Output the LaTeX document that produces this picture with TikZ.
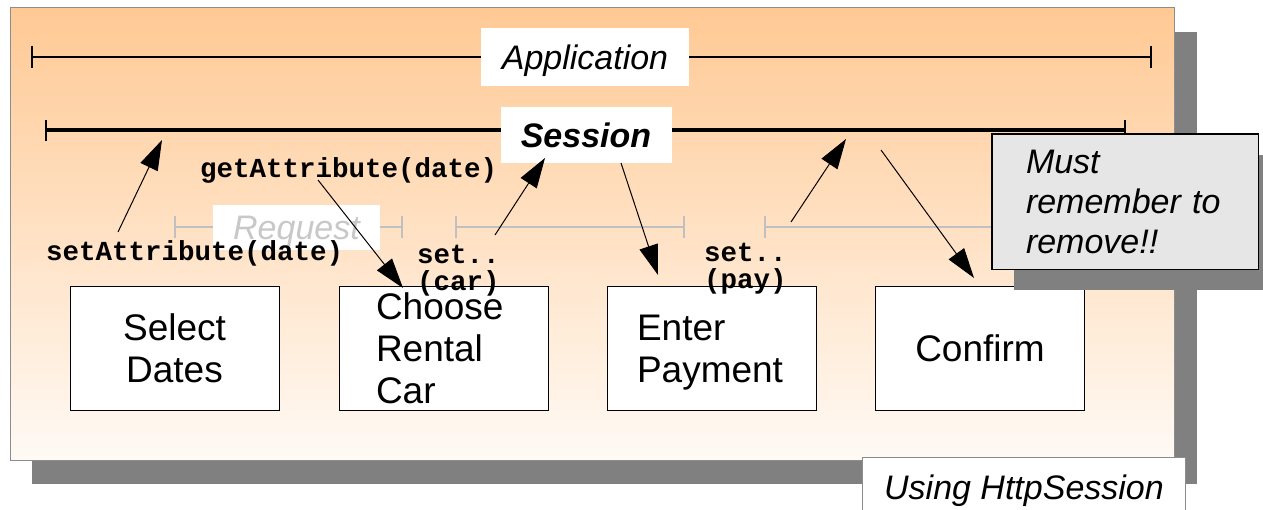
\documentclass[tikz,border=0pt]{standalone}
\usepackage{fontspec}
\setmainfont{Liberation Sans}
\newfontfamily\codefont{Liberation Mono}
\usetikzlibrary{arrows.meta}
\definecolor{orangetop}{HTML}{FFC994}
\definecolor{orangebot}{HTML}{FFFAF5}
\definecolor{shadowgray}{HTML}{808080}
\definecolor{reqline}{HTML}{C0C0C0}
\definecolor{reqtext}{HTML}{C8C8C8}
\definecolor{notegray}{HTML}{E6E6E6}
\definecolor{edgegray}{HTML}{8C8C8C}
\begin{document}
\begin{tikzpicture}[x=1pt,y=-1pt,
  labelbox/.style={fill=white, inner sep=0pt, font=\fontsize{34}{40}\selectfont\itshape},
  stepbox/.style={draw=black, line width=1pt, fill=white, minimum width=209pt, minimum height=123pt, inner ysep=0pt, font=\fontsize{37}{42}\selectfont},
  codelabel/.style={inner sep=0pt, font=\fontsize{27.5}{27}\selectfont\codefont\bfseries},
  arr/.style={-{Triangle[length=30pt,width=19pt]}, line width=1pt},
  reqseg/.style={draw=reqline, line width=2pt},
  tick/.style={line width=2pt}
]
\useasboundingbox (0,0) rectangle (1263,510);
% main panel with shadow
\fill[shadowgray] (32,32) rectangle (1197,484);
\path[draw=edgegray, line width=1pt, top color=orangetop, bottom color=orangebot] (10,8) rectangle (1174,460);
% application scope
\draw[line width=1.3pt] (32,57) -- (1151,57);
\draw[tick] (32,46) -- (32,68);
\draw[tick] (1151,46) -- (1151,68);
\node[labelbox, minimum width=208pt, minimum height=58pt, text depth=0pt] (app) at (585,57) {Application};
% session scope
\draw[line width=4pt] (46,130) -- (1125,130);
\draw[tick] (46,120) -- (46,141);
\draw[tick] (1125,120) -- (1125,141);
\node[labelbox, minimum width=171pt, minimum height=56pt, font=\fontsize{34}{40}\selectfont\bfseries\itshape] (sess) at (586,135) {Session};
% request scopes
\draw[reqseg] (175,227) -- (402,227);
\draw[reqseg] (175,216) -- (175,238);
\draw[reqseg] (402,216) -- (402,238);
\draw[reqseg] (456,227) -- (684,227);
\draw[reqseg] (456,216) -- (456,238);
\draw[reqseg] (684,216) -- (684,238);
\draw[reqseg] (765,227) -- (993,227);
\draw[reqseg] (765,216) -- (765,238);
\draw[reqseg] (993,216) -- (993,238);
\node[labelbox, minimum width=167pt, minimum height=45pt, text=reqtext, text depth=0pt] (req) at (296.5,227.5) {Request};
% page boxes
\node[stepbox, align=center] (sel) at (174.5,348.5) {Select\\Dates};
\node[stepbox, align=left, text width=135pt, inner xsep=37pt] (choose) at (443.5,348.5) {Choose\\Rental\\Car};
\node[stepbox, align=left, text width=150pt, inner xsep=29.5pt, text depth=42pt] (pay) at (712,348.5) {Enter\\Payment};
\node[stepbox, align=center] (conf) at (980,348.5) {Confirm};
% code labels
\node[codelabel, anchor=base west] (getl) at (200,178) {getAttribute(date)};
\node[codelabel, anchor=base west] (setl) at (46,261) {setAttribute(date)};
\node[codelabel, anchor=west, align=left] (setcar) at (417,271) {set..\\(car)};
\node[codelabel, anchor=west, align=left] (setpay) at (704,269) {set..\\(pay)};
% arrows
\coordinate (a1s) at (118,232); \coordinate (a1e) at (162,140);
\coordinate (a2s) at (318,180); \coordinate (a2e) at (403,288);
\coordinate (a3s) at (495,235); \coordinate (a3e) at (545,158);
\coordinate (a4s) at (621,163); \coordinate (a4e) at (658,275);
\coordinate (a5s) at (791,222); \coordinate (a5e) at (846,139);
\coordinate (a6s) at (881,150); \coordinate (a6e) at (974,278);
\draw[arr] (a1s) -- (a1e);
\draw[arr] (a2s) -- (a2e);
\draw[arr] (a3s) -- (a3e);
\draw[arr] (a4s) -- (a4e);
\draw[arr] (a5s) -- (a5e);
\draw[arr] (a6s) -- (a6e);
% note
\fill[shadowgray] (1014,155) rectangle (1280,290);
\node[draw=black, line width=1pt, fill=notegray, minimum width=266pt, minimum height=135pt, text width=198pt, inner xsep=34pt, align=left, font=\fontsize{34}{40}\selectfont\itshape] (must) at (1125,202) {Must\\remember to\\remove!!};
\draw[line width=1pt] (must.north west) rectangle (must.south east);
% caption
\node[draw=edgegray, line width=1pt, fill=white, minimum width=323pt, minimum height=60pt, anchor=north west, text depth=0pt, font=\fontsize{34}{40}\selectfont\itshape] (using) at (862,457) {Using HttpSession};
\end{tikzpicture}
\end{document}
